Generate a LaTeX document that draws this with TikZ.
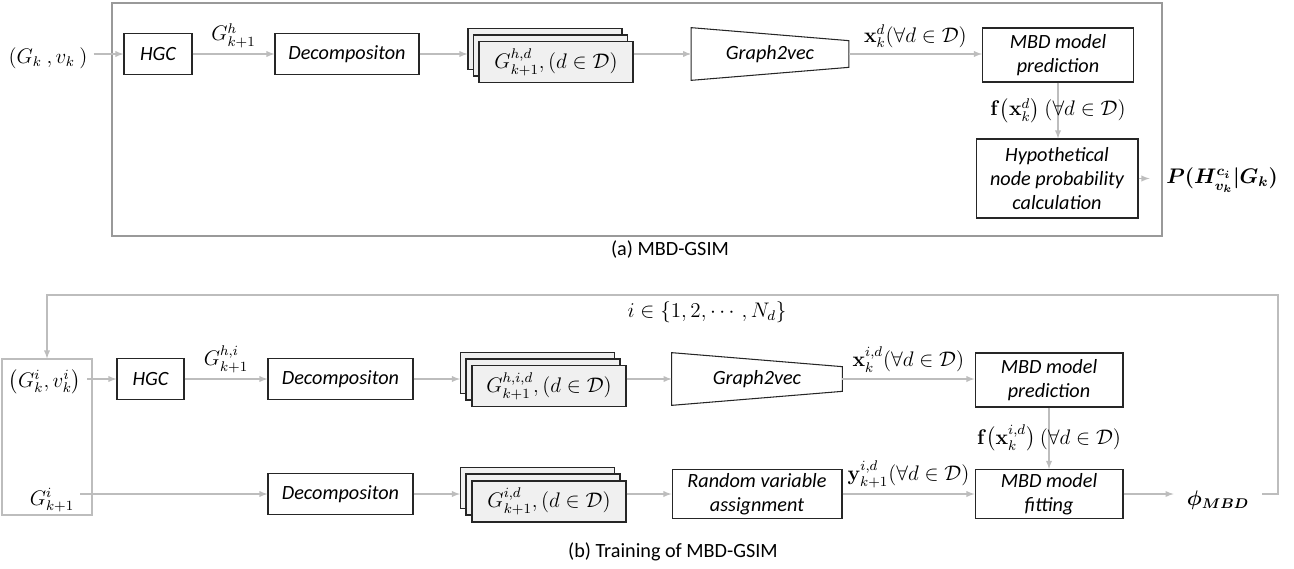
\documentclass[tikz,border=0pt]{standalone}
\usepackage{amsmath, amssymb}
\usepackage[no-math]{fontspec}
\setmainfont{Carlito}
\usetikzlibrary{calc, quotes}
\definecolor{linegray}{gray}{0.74}
\definecolor{framegray}{gray}{0.6}
\definecolor{edgegray}{gray}{0.15}
\definecolor{stackfill}{gray}{0.94}
\newcommand{\diafont}{\fontsize{11.5}{13.6}\selectfont}

\tikzset{
  blk/.style={draw=edgegray, line width=0.6pt, font=\diafont\itshape, align=center, inner sep=0pt, minimum height=0.82cm},
  stk/.style={blk, fill=stackfill, font=\diafont, minimum width=3.08cm},
  trap/.style={font=\diafont\itshape, inner sep=0pt, minimum height=1.04cm},
  arr/.style={-latex, draw=linegray, line width=0.6pt},
}

\begin{document}
\begin{tikzpicture}[x=0.02cm, y=-0.02cm, font=\diafont]
\useasboundingbox (0,0) rectangle (1294,568);

% (a) MBD-GSIM
\draw[framegray, line width=0.6pt] (112,3) rectangle (1162,236);
\node (inA) at (48,58) {$(G_k\ ,v_k\ )$};
\node[blk, minimum width=1.36cm] (hgcA) at (158,54) {HGC};
\node[blk, minimum width=2.88cm] (decA) at (347,54) {Decompositon};
\node[stk] (stkA3) at (545,49) {};
\node[stk] (stkA2) at (550.5,55.5) {};
\node[stk] (stkA1) at (556,62) {$G^{h,d}_{k+1}, (d\in\mathcal{D})$};
\node[trap, minimum width=3.14cm] (g2vA) at (770,54) {Graph2vec};
\draw[edgegray, line width=0.6pt] (g2vA.north west) -- ($(g2vA.north east)+(0,13)$) -- ($(g2vA.south east)+(0,-13)$) -- (g2vA.south west) -- cycle;
\node[blk, minimum width=3.02cm, minimum height=1.08cm] (predA) at (1058,55) {MBD model\\prediction};
\node[blk, minimum width=3.24cm, minimum height=1.58cm] (hypA) at (1057,178.5) {Hypothetical\\node probability\\calculation};
\node (pA) at (1222,180) {$\boldsymbol{P(H^{c_i}_{v_k}|G_k)}$};
\node (capA) at (670,250) {(a) MBD-GSIM};

\draw[arr] (inA.east |- hgcA.west) -- (hgcA.west);
\draw[arr] (hgcA) to["$G^h_{k+1}$"] (decA);
\draw[arr] (decA.east) -- (decA.east -| stkA3.west);
\draw[arr] (stkA1.east |- g2vA.west) -- (g2vA.west);
\draw[arr] (g2vA.east) to["$\mathbf{x}_k^d(\forall d\in\mathcal{D})$"] (g2vA.east -| predA.west);
\draw[arr] (predA.south) -- node (fA) {$\mathbf{f}\bigl(\mathbf{x}_k^d\bigr)\ (\forall d\in\mathcal{D})$} (predA.south |- hypA.north);
\draw[arr, shorten >=6pt] (hypA.east) -- (hypA.east -| pA.west);

% (b) Training of MBD-GSIM
\node[draw=linegray, line width=0.6pt, minimum width=1.8cm, minimum height=3.12cm] (srcB) at (47,437) {};
\node (inB) at (45,382) {$\bigl(G^i_k, v^i_k\bigr)$};
\node (nxtB) at (52,500) {$G^i_{k+1}$};
\node[blk, minimum width=1.34cm] (hgcB) at (150.5,379) {HGC};
\node[blk, minimum width=2.9cm] (decB) at (340.5,379) {Decompositon};
\node[blk, minimum width=2.9cm] (decC) at (340.5,494) {Decompositon};
\node[stk] (stkB3) at (537.5,373) {};
\node[stk] (stkB2) at (543,379.5) {};
\node[stk] (stkB1) at (549,386) {$G^{h,i,d}_{k+1}, (d\in\mathcal{D})$};
\node[stk] (stkC3) at (537.5,488) {};
\node[stk] (stkC2) at (543,494.5) {};
\node[stk] (stkC1) at (549,501.5) {$G^{i,d}_{k+1}, (d\in\mathcal{D})$};
\node[trap, minimum width=3.4cm] (g2vB) at (757,379) {Graph2vec};
\draw[edgegray, line width=0.6pt] (g2vB.north west) -- ($(g2vB.north east)+(0,14)$) -- ($(g2vB.south east)+(0,-14)$) -- (g2vB.south west) -- cycle;
\node[blk, minimum width=3.4cm, minimum height=0.98cm] (rvaB) at (757,494) {Random variable\\assignment};
\node[blk, minimum width=2.96cm, minimum height=1.08cm] (predB) at (1049,380) {MBD model\\prediction};
\node[blk, minimum width=2.96cm, minimum height=0.98cm] (fitB) at (1049,494) {MBD model\\fitting};
\node (phiB) at (1218,500) {$\boldsymbol{\phi_{MBD}}$};
\node (iLbl) at (707,312) {$i\in\{1,2,\cdots,N_d\}$};
\node (capB) at (673,552) {(b) Training of MBD-GSIM};
\coordinate (loopR) at (1278,295);
\coordinate (loopL) at (47,295);

\draw[arr] (inB.east |- hgcB.west) -- (hgcB.west);
\draw[arr] (hgcB) to["$G^{h,i}_{k+1}$"] (decB);
\draw[arr] (decB.east) -- (decB.east -| stkB3.west);
\draw[arr] (stkB1.east |- g2vB.west) -- (g2vB.west);
\draw[arr] (g2vB.east) to["$\mathbf{x}^{i,d}_k(\forall d\in\mathcal{D})$"] (g2vB.east -| predB.west);
\draw[arr] (predB.south) -- node (fB) {$\mathbf{f}\bigl(\mathbf{x}_k^{i,d}\bigr)\ (\forall d\in\mathcal{D})$} (predB.south |- fitB.north);
\draw[arr] (nxtB.east |- decC.west) -- (decC.west);
\draw[arr] (decC.east) -- (decC.east -| stkC3.west);
\draw[arr] (stkC1.east |- rvaB.west) -- (rvaB.west);
\draw[arr] (rvaB.east) to["$\mathbf{y}^{i,d}_{k+1}(\forall d\in\mathcal{D})$"] (rvaB.east -| fitB.west);
\draw[arr, shorten >=4pt] (fitB.east) -- (fitB.east -| phiB.west);
\draw[arr, shorten <=4pt] (phiB.east |- fitB.east) -- (loopR |- fitB.east) -- (loopR) -- (loopL) -- (srcB.north);
\end{tikzpicture}
\end{document}
